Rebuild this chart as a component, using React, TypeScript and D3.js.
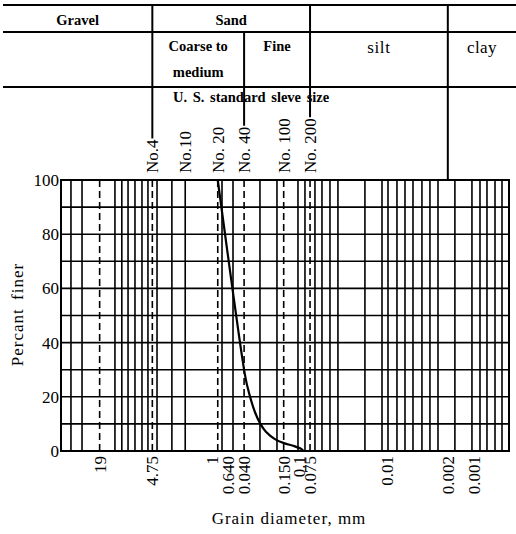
import React from 'react';
import * as d3 from 'd3';

const WIDTH = 516;
const HEIGHT = 534;
const SERIF = 'Liberation Serif, DejaVu Serif, serif';

// Grading curve: grain diameter (mm) and percent finer
const grainDiameters = [0.85, 0.425, 0.391, 0.319, 0.276, 0.238, 0.189, 0.149, 0.1136, 0.0937, 0.09];
const percentFiner = [100, 30, 24, 14.3, 9.9, 7.0, 4.4, 2.9, 1.8, 0.7, 0.2];

// Solid vertical rulings of the chart paper (mm)
const gridDiameters = [
  40.4, 30.2, 12.7, 10.6, 9.0, 7.5, 6.24, 5.33, 4.2, 2.84, 2.0, 0.76, 0.569, 0.28,
  0.179, 0.103, 0.0857, 0.0659, 0.0548, 0.0444, 0.036, 0.0177, 0.0113, 0.00965,
  0.00762, 0.00617, 0.005, 0.00395, 0.0032, 0.00259, 0.00166, 0.00106, 0.000858,
  0.000714, 0.000578, 0.000481,
];

// Dashed rulings at sieve openings (mm)
const markedOpenings = [19, 4.75, 0.85, 0.425, 0.15, 0.075];

// U.S. standard sieves
const sieveNames = ['No.4', 'No.10', 'No. 20', 'No. 40', 'No. 100', 'No. 200'];
const sieveOpenings = [4.75, 2.0, 0.85, 0.425, 0.15, 0.075];

// Bottom axis ticks
const xTickValues = [19, 4.75, 1, 0.64, 0.425, 0.15, 0.1, 0.075, 0.01, 0.002, 0.001];
const xTickLabels = ['19', '4.75', '1', '0.640', '0.040', '0.150', '0.1', '0.075', '0.01', '0.002', '0.001'];

// Left axis
const yTickValues = [0, 20, 40, 60, 80, 100];
const yGridValues = [0, 10, 20, 30, 40, 50, 60, 70, 80, 90, 100];

// Soil class boundaries (mm): gravel|sand, coarse|fine sand, sand|silt, silt|clay
const gravelSand = 4.75;
const coarseFine = 0.425;
const sandSilt = 0.075;
const siltClay = 0.002;

export default function App() {
  const plot = { left: 61, right: 509, top: 180, bottom: 451 };
  const table = { left: 3, right: 516, r0: 5, r1: 32, r2: 87 };
  const sieveLabelBase = 173;
  const sieveFont = `17px ${SERIF}`;

  const x = d3.scaleLog().domain([52.5, 0.0004]).range([plot.left, plot.right]);
  const y = d3.scaleLinear().domain([0, 100]).range([plot.bottom, plot.top]);

  const ctx = document.createElement('canvas').getContext('2d');
  const textWidth = (t: string, font: string) => {
    if (!ctx) return t.length * 8;
    ctx.font = font;
    return ctx.measureText(t).width;
  };
  const labelTop = (opening: number) => {
    const i = sieveOpenings.indexOf(opening);
    return sieveLabelBase - textWidth(sieveNames[i], sieveFont) - 1;
  };

  const points: [number, number][] = grainDiameters.map((d, i) => [d, percentFiner[i]]);
  const line = d3
    .line<[number, number]>()
    .x((d) => x(d[0]))
    .y((d) => y(d[1]))
    .curve(d3.curveCatmullRom.alpha(0.5));

  const xGS = x(gravelSand);
  const xCF = x(coarseFine);
  const xSS = x(sandSilt);
  const xSC = x(siltClay);

  const bold = { fontFamily: SERIF, fontWeight: 700, fontSize: 14.5 } as const;
  const plain = { fontFamily: SERIF, fontSize: 17 } as const;

  return (
    <svg
      width={WIDTH}
      height={HEIGHT}
      style={{ position: 'absolute', left: 0, top: 0, background: '#fff' }}
    >
      <rect width={WIDTH} height={HEIGHT} fill="#fff" />

      {/* classification table */}
      <g stroke="#000" strokeWidth={2}>
        {[table.r0, table.r1, table.r2].map((ry) => (
          <line key={ry} x1={table.left} x2={table.right} y1={ry} y2={ry} />
        ))}
        <line x1={xGS} x2={xGS} y1={table.r0} y2={labelTop(gravelSand)} />
        <line x1={xCF} x2={xCF} y1={table.r1} y2={labelTop(coarseFine)} />
        <line x1={xSS} x2={xSS} y1={table.r0} y2={labelTop(sandSilt)} />
        <line x1={xSC} x2={xSC} y1={table.r0} y2={plot.top} />
      </g>
      <g fill="#000" textAnchor="middle" dominantBaseline="central">
        <text x={(table.left + xGS) / 2} y={(table.r0 + table.r1) / 2 + 1} style={bold}>Gravel</text>
        <text x={(xGS + xSS) / 2} y={(table.r0 + table.r1) / 2 + 1} style={bold}>Sand</text>
        <text x={(xGS + xCF) / 2} y={46} style={bold}>Coarse to</text>
        <text x={(xGS + xCF) / 2} y={72} style={bold}>medium</text>
        <text x={(xCF + xSS) / 2} y={46} style={bold}>Fine</text>
        <text x={(xSS + xSC) / 2} y={47} style={plain} letterSpacing={0.6}>silt</text>
        <text x={(xSC + table.right) / 2} y={47} style={plain} letterSpacing={0.4}>clay</text>
      </g>
      <text x={173} y={97} dominantBaseline="central" style={bold} wordSpacing={2}>
        U. S. standard sleve size
      </text>

      {/* sieve numbers */}
      <g style={plain} fill="#000">
        {sieveNames.map((name, i) => (
          <text
            key={name}
            transform={`translate(${x(sieveOpenings[i])},${sieveLabelBase}) rotate(-90)`}
            dy="0.35em"
            textAnchor="start"
          >
            {name}
          </text>
        ))}
      </g>

      {/* chart paper */}
      <g stroke="#000" strokeWidth={1.6}>
        {yGridValues.map((v) => (
          <line key={`h${v}`} x1={plot.left} x2={plot.right} y1={y(v)} y2={y(v)} />
        ))}
        {gridDiameters.map((d) => (
          <line key={`v${d}`} x1={x(d)} x2={x(d)} y1={plot.top} y2={plot.bottom} />
        ))}
      </g>
      <g stroke="#000" strokeWidth={1.6} strokeDasharray="7 4">
        {markedOpenings.map((d) => (
          <line key={`s${d}`} x1={x(d)} x2={x(d)} y1={plot.top} y2={plot.bottom} />
        ))}
      </g>
      <rect
        x={plot.left}
        y={plot.top}
        width={plot.right - plot.left}
        height={plot.bottom - plot.top}
        fill="none"
        stroke="#000"
        strokeWidth={2}
      />

      {/* grading curve */}
      <path d={line(points) ?? ''} fill="none" stroke="#000" strokeWidth={2.2} />

      {/* left axis */}
      <g style={plain} fill="#000" textAnchor="end">
        {yTickValues.map((v) => (
          <text key={v} x={plot.left - 2} y={y(v)} dy="0.35em">
            {v}
          </text>
        ))}
      </g>
      <text
        transform={`translate(17,${(plot.top + plot.bottom) / 2 - 1}) rotate(-90)`}
        textAnchor="middle"
        dy="0.35em"
        style={plain}
        letterSpacing={1}
        wordSpacing={3}
      >
        Percant finer
      </text>

      {/* bottom axis */}
      <g style={plain} fill="#000">
        {xTickValues.map((v, i) => (
          <text
            key={xTickLabels[i]}
            transform={`translate(${x(v)},${plot.bottom + 5}) rotate(-90)`}
            dy="0.35em"
            textAnchor="end"
          >
            {xTickLabels[i]}
          </text>
        ))}
      </g>
      <text x={289} y={518} textAnchor="middle" dy="0.35em" style={plain} letterSpacing={1}>
        Grain diameter, mm
      </text>
    </svg>
  );
}
